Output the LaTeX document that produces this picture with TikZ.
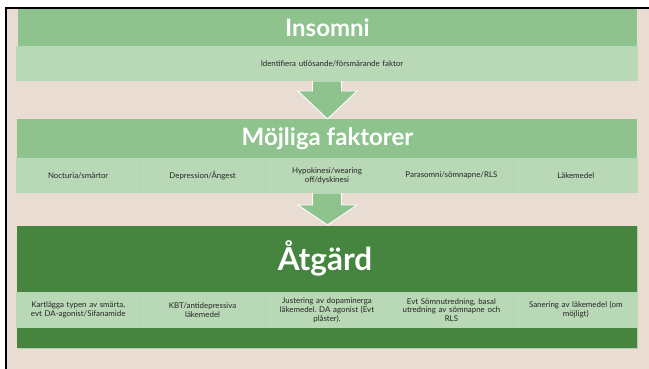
\documentclass[tikz,border=0pt]{standalone}
\usepackage{fontspec}
\setmainfont{Lato}
\frenchspacing
\definecolor{bgbeige}{HTML}{E8DCD3}
\definecolor{hdrgreen}{HTML}{8FC38D}
\definecolor{bandgreen}{HTML}{B8D8B6}
\definecolor{sepgreen}{HTML}{B2D4B0}
\definecolor{darkgreen}{HTML}{45853F}
\definecolor{txtgray}{HTML}{262626}
\tikzset{
  hdrtitle/.style={text=white, font=\bfseries\fontsize{24}{26}\selectfont, anchor=center},
  celltext/.style={text=txtgray, font=\fontsize{7.9}{8.8}\selectfont, align=center, text width=122pt, anchor=center},
  downarrow/.style={fill=hdrgreen, draw=white, line width=0.9pt, line join=miter},
}
\begin{document}
\begin{tikzpicture}[x=1pt, y=-1pt]
\useasboundingbox (0,0) rectangle (649,369);
% page background and frame
\fill[white] (0,0) rectangle (649,369);
\fill[bgbeige] (6,8) rectangle (649,369);
\draw[black, line width=2pt] (5.5,369) -- (5.5,8) -- (649,8);

% arrows between the stages
\draw[downarrow] (312.5,81) -- (341.5,81) -- (341.5,91) -- (357,91) -- (327.5,119) -- (298,91) -- (312.5,91) -- cycle;
\draw[downarrow] (312.5,193) -- (341.5,193) -- (341.5,205) -- (357,205) -- (327.5,225) -- (298,205) -- (312.5,205) -- cycle;

% stage 1
\fill[hdrgreen] (18,9) rectangle (637,46);
\fill[bandgreen] (16,46) rectangle (638,81);
\node[hdrtitle] (t1) at (327.5,27.5) {Insomni};
\node[celltext, text width=300pt] (c1) at (332,63.5) {Identifiera utlösande/försmärande faktor};

% stage 2
\fill[hdrgreen] (17,119) rectangle (637,158);
\fill[bandgreen] (16,158) rectangle (638,193);
\foreach \x in {140.4,264.8,389.2,513.6}
  \draw[sepgreen, line width=0.5pt] (\x,158) -- (\x,193);
\node[hdrtitle] (t2) at (327.5,138.5) {Möjliga faktorer};
\node[celltext] (f1) at (78.2,175.5) {Nocturia/smärtor};
\node[celltext] (f2) at (202.6,175.5) {Depression/Ångest};
\node[celltext] (f3) at (327,175.5) {Hypokinesi/wearing\\off/dyskinesi};
\node[celltext] (f4) at (451.4,175.5) {Parasomni/sömnapne/RLS};
\node[celltext] (f5) at (575.8,175.5) {Läkemedel};

% stage 3
\draw[darkgreen!40!white, line width=0.8pt] (17,226) rectangle (637,348);
\fill[darkgreen] (17,226) rectangle (637,348);
\fill[bandgreen] (16,292) rectangle (638,328);
\foreach \x in {140.4,264.8,389.2,513.6}
  \draw[sepgreen, line width=0.5pt] (\x,292) -- (\x,328);
\node[hdrtitle, font=\bfseries\fontsize{31.5}{33}\selectfont] (t3) at (325,258) {Åtgärd};
\node[celltext] (a1) at (78.2,310) {Kartlägga typen av smärta,\\evt DA-agonist/Sifanamide};
\node[celltext] (a2) at (202.6,310) {KBT/antidepressiva\\läkemedel};
\node[celltext] (a3) at (327,310) {Justering av dopaminerga\\läkemedel. DA agonist (Evt\\plåster).};
\node[celltext] (a4) at (451.4,310) {Evt Sömnutredning, basal\\utredning av sömnapne och\\RLS};
\node[celltext] (a5) at (575.8,310) {Sanering av läkemedel (om\\möjligt)};
\end{tikzpicture}
\end{document}
